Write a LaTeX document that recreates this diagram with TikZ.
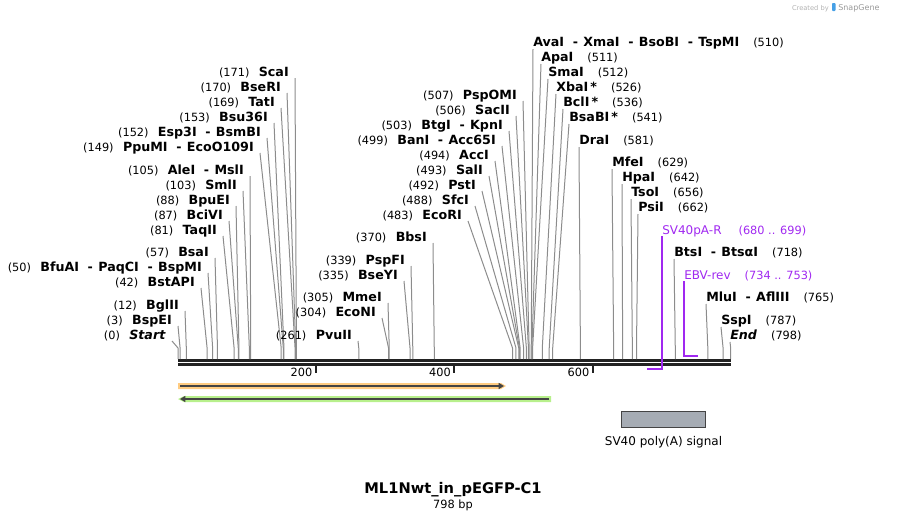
\documentclass[tikz,border=0pt]{standalone}
\usepackage{fontspec}
\setmainfont{DejaVu Sans}
\usetikzlibrary{arrows.meta,positioning}
\definecolor{cutgray}{RGB}{140,140,140}
\definecolor{bbdark}{RGB}{34,34,34}
\definecolor{primerpurple}{RGB}{160,40,240}
\definecolor{orangeband}{RGB}{255,204,130}
\definecolor{greenband}{RGB}{184,240,140}
\definecolor{featdark}{RGB}{68,68,68}
\definecolor{polyagray}{RGB}{166,172,180}
\definecolor{snapblue}{RGB}{70,160,230}
\newcommand{\enzsep}{\hspace{6.5pt}-\hspace{4pt}}
\newcommand{\sitenum}[1]{{\mdseries\fontsize{8.5}{10}\selectfont(#1)}}

\begin{document}
\begin{tikzpicture}[x=0.75pt,y=-0.75pt,>=Latex,
  lbl/.style={inner sep=0pt,font=\fontsize{9.5}{10}\selectfont},
  cutline/.style={draw=cutgray,line width=0.75pt},
  bbone/.style={draw=bbdark,line width=2pt},
  tickmark/.style={draw=bbdark,line width=1.5pt},
  primer/.style={draw=primerpurple,line width=1.5pt},
  primerlbl/.style={lbl,font=\fontsize{9}{10}\selectfont,text=primerpurple,anchor=base west},
  featline/.style={draw=featdark,line width=1.5pt}]
  \useasboundingbox (0,0) rectangle (908,522);
  \coordinate (bbL) at (178,360.3);
  \coordinate (bbR) at (730.7,360.3);
  \draw[bbone] (bbL) -- (bbR);
  \draw[bbone] ([yshift=-3.2pt]bbL) -- ([yshift=-3.2pt]bbR);
  \foreach \t in {200,400,600} {
    \coordinate (tk\t) at (177+0.6926*\t,366);
    \draw[tickmark] (tk\t) -- ++(0,7);
    \node[lbl,font=\fontsize{8.5}{10}\selectfont,anchor=base east] (tl\t) at (174+0.6926*\t,376) {\t};
  }
  \foreach \p/\cy/\xa/\nm [count=\i] in {171/72/295/ScaI, 170/87/287/BseRI, 169/102/281/TatI,
      153/117/274/Bsu36I, 152/132/267/{Esp3I\enzsep BsmBI}, 149/147/260/{PpuMI\enzsep EcoO109I},
      105/170/250/{AleI\enzsep MslI}, 103/185/243/SmlI, 88/200/236/BpuEI, 87/215/229/BciVI,
      81/230/223/TaqII, 57/252/215/BsaI, 50/267/208/{BfuAI\enzsep PaqCI\enzsep BspMI},
      42/282/201/BstAPI, 12/305/185/BglII, 3/320/178/BspEI, 0/335/172/{\textit{Start}},
      507/95/523/PspOMI, 506/110/516/SacII, 503/125/509/{BtgI\enzsep KpnI},
      499/140/502/{BanI\enzsep Acc65I}, 494/155/495/AccI, 493/170/489/SalI, 492/185/482/PstI,
      488/200/475/SfcI, 483/215/468/EcoRI, 370/237/433/BbsI, 339/260/411/PspFI,
      335/275/404/BseYI, 305/297/388/MmeI, 304/312/382/EcoNI, 261/335/358/PvuII} {
    \pgfmathsetmacro{\sx}{178+0.6926*\p}
    \node[lbl,anchor=base east] (le\i) at (\xa-6,\cy+4) {\sitenum{\p}\hspace{7pt}\textbf{\nm}};
    \coordinate (la\i) at (\xa,\cy+6);
    \coordinate (lb\i) at (\sx,348);
    \coordinate (lc\i) at (\sx,359);
    \draw[cutline] (la\i) -- (lb\i) -- (lc\i);
  }
  \foreach \p/\cy/\xa/\nm [count=\i] in {510/42/533/{AvaI\enzsep XmaI\enzsep BsoBI\enzsep TspMI},
      511/57/541/ApaI, 512/72/548/SmaI, 526/87/556/{XbaI\,*}, 536/102/563/{BclI\,*},
      541/117/569/{BsaBI\,*}, 581/140/579/DraI, 629/162/612/MfeI, 642/177/622/HpaI,
      656/192/631/TsoI, 662/207/638/PsiI, 718/252/674/{BtsI\enzsep BtsαI},
      765/297/706/{MluI\enzsep AflIII}, 787/320/721/SspI, 798/335/730/{\textit{End}}} {
    \pgfmathsetmacro{\sx}{178+0.6926*\p}
    \node[lbl,anchor=base west] (re\i) at (\xa,\cy+4) {\textbf{\nm}\hspace{10.5pt}\sitenum{\p}};
    \coordinate (ra\i) at (\xa,\cy+7);
    \coordinate (rb\i) at (\sx,348);
    \coordinate (rc\i) at (\sx,359);
    \draw[cutline] (ra\i) -- (rb\i) -- (rc\i);
  }
  \node[primerlbl] (sv40pa) at (662,234) {SV40pA-R\hspace{12.75pt}\sitenum{680 .. 699}};
  \coordinate (sv40paA) at (661.7,236);
  \coordinate (sv40paB) at (661.7,369);
  \coordinate (sv40paC) at (647,369);
  \draw[primer] (sv40paA) -- (sv40paB) -- (sv40paC);
  \node[primerlbl] (ebvrev) at (684,279) {EBV-rev\hspace{10.5pt}\sitenum{734 .. 753}};
  \coordinate (ebvrevA) at (684,281);
  \coordinate (ebvrevB) at (684,356);
  \coordinate (ebvrevC) at (698,356);
  \draw[primer] (ebvrevA) -- (ebvrevB) -- (ebvrevC);
  \fill[orangeband] (178,383) -- (501,383) -- (506,386) -- (501,389) -- (178,389) -- cycle;
  \coordinate (orfa) at (180,386);
  \coordinate (orfb) at (504,386);
  \draw[featline,-{Triangle[length=4pt,width=4.5pt]}] (orfa) -- (orfb);
  \fill[greenband] (551,396) -- (184,396) -- (178,399) -- (184,402) -- (551,402) -- cycle;
  \coordinate (orfc) at (549,399);
  \coordinate (orfd) at (180,399);
  \draw[featline,-{Triangle[length=4pt,width=4.5pt]}] (orfc) -- (orfd);
  \node[draw=featdark,fill=polyagray,line width=0.75pt,minimum width=63.5pt,minimum height=12.5pt,inner sep=0pt] (sv40) at (663.5,419.5) {};
  \node[lbl,font=\fontsize{9}{10}\selectfont,below=5.5pt of sv40] (sv40lbl) {SV40 poly(A) signal};
  \node[font=\bfseries\fontsize{11}{13}\selectfont,inner sep=0pt] (title) at (453,490) {ML1Nwt\_in\_pEGFP-C1};
  \node[font=\fontsize{8.5}{10}\selectfont,inner sep=0pt] (size) at (453,505) {798 bp};
  \node[font=\fontsize{5}{6}\selectfont,text=gray!60,anchor=base east,inner sep=0pt] (made) at (829,10) {Created by};
  \fill[snapblue,rounded corners=0.6pt] (832,3) rectangle (835.5,11);
  \node[font=\fontsize{6}{7}\selectfont,text=gray!80,anchor=base west,inner sep=0pt] (snap) at (838,10) {SnapGene};
\end{tikzpicture}
\end{document}
